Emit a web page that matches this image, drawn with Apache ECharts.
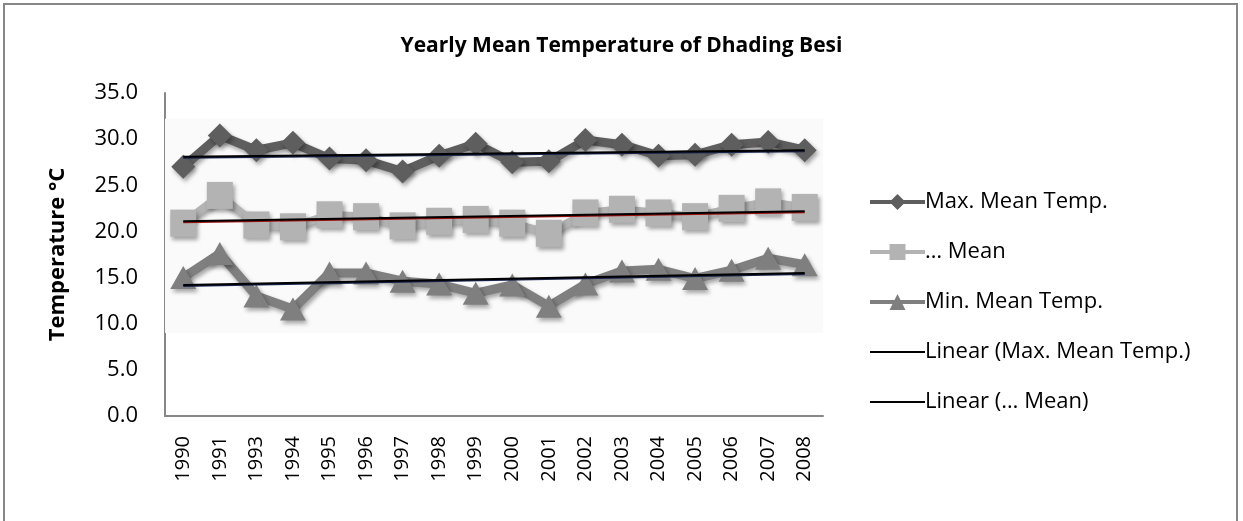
<!DOCTYPE html>
<html>
<head>
<meta charset="utf-8">
<title>Yearly Mean Temperature of Dhading Besi</title>
<script src="https://cdn.jsdelivr.net/npm/echarts@6.0.0/dist/echarts.min.js"></script>
<style>
  html, body { margin: 0; padding: 0; background: #fff; }
  #chart { width: 1243px; height: 521px; }
</style>
</head>
<body>
<div id="chart"></div>
<script>
// data
const years = ['1990', '1991', '1993', '1994', '1995', '1996', '1997', '1998', '1999',
  '2000', '2001', '2002', '2003', '2004', '2005', '2006', '2007', '2008']
const maxMean = [27.0, 30.4, 28.8, 29.6, 27.9, 27.7, 26.5, 28.2, 29.5,
  27.5, 27.6, 29.9, 29.4, 28.2, 28.3, 29.4, 29.7, 28.8]
const meanTemp = [20.9, 23.9, 20.7, 20.5, 21.8, 21.6, 20.6, 21.1, 21.3,
  20.9, 19.8, 22.0, 22.4, 22.0, 21.6, 22.5, 23.2, 22.6]
const minMean = [15.0, 17.6, 13.0, 11.6, 15.5, 15.5, 14.6, 14.3, 13.3,
  14.2, 11.9, 14.3, 15.7, 15.9, 14.9, 15.8, 17.1, 16.4]
// trend line end points (first year, last year)
const trendMax = [28.1, 28.8]
const trendMean = [21.1, 22.2]
const trendMin = [14.2, 15.5]
const yTicks = [0, 5, 10, 15, 20, 25, 30, 35]

const font = 'Open Sans'
const shadow = {
  shadowColor: 'rgba(0,0,0,0.35)',
  shadowBlur: 4,
  shadowOffsetX: 2,
  shadowOffsetY: 3,
}
// plain line icon for the trend entries in the legend
const lineIcon = 'path://M0,0 L55,0 L55,2 L0,2 Z'

function trend(ends) {
  return [[0, ends[0]], [years.length - 1, ends[1]]]
}

const chart = echarts.init(document.getElementById('chart'))

const option = {
  animation: false,
  textStyle: { fontFamily: font },
  graphic: [
    {
      type: 'rect',
      shape: { x: 4, y: 4, width: 1233, height: 530 },
      style: { fill: 'none', stroke: '#878787', lineWidth: 2 },
      silent: true,
      z: -10,
    },
  ],
  title: {
    text: 'Yearly Mean Temperature of Dhading Besi',
    left: 'center',
    top: 31,
    textStyle: {
      fontFamily: font,
      fontWeight: 'bold',
      fontSize: 21,
      color: '#000',
    },
  },
  grid: {
    left: 165,
    top: 93,
    right: 420,
    bottom: 105,
  },
  legend: {
    orient: 'vertical',
    left: 863,
    top: 186,
    itemWidth: 55,
    itemHeight: 20,
    itemGap: 28,
    textStyle: { fontFamily: font, fontSize: 22, color: '#000', padding: [0, 0, 0, -5] },
    data: [
      { name: 'Max. Mean Temp.', lineStyle: { width: 4 } },
      { name: '… Mean', lineStyle: { width: 4 } },
      { name: 'Min. Mean Temp.', lineStyle: { width: 4 } },
      { name: 'Linear (Max. Mean Temp.)', icon: lineIcon, itemStyle: { color: '#000' } },
      { name: 'Linear (… Mean)', icon: lineIcon, itemStyle: { color: '#000' } },
    ],
  },
  xAxis: {
    type: 'category',
    data: years,
    axisLine: { lineStyle: { color: '#878787', width: 2 } },
    axisTick: { show: false },
    axisLabel: {
      rotate: 90,
      margin: 20,
      interval: 0,
      fontFamily: font,
      fontSize: 20,
      color: '#000',
    },
  },
  yAxis: {
    type: 'value',
    min: yTicks[0],
    max: yTicks[yTicks.length - 1],
    interval: 5,
    name: 'Temperature °C',
    nameLocation: 'middle',
    nameGap: 96,
    nameTextStyle: {
      fontFamily: font,
      fontWeight: 'bold',
      fontSize: 22,
      color: '#000',
    },
    axisLine: { show: true, lineStyle: { color: '#878787', width: 2 } },
    axisTick: { show: false },
    splitLine: { show: false },
    axisLabel: {
      margin: 27,
      fontFamily: font,
      fontSize: 22,
      color: '#000',
      formatter: (v) => v.toFixed(1),
    },
  },
  series: [
    {
      name: 'Max. Mean Temp.',
      type: 'line',
      data: maxMean,
      symbol: 'diamond',
      symbolSize: 24,
      lineStyle: Object.assign({ color: '#5e5e5e', width: 9 }, shadow),
      itemStyle: Object.assign({ color: '#5e5e5e' }, shadow),
      z: 3,
      markArea: {
        silent: true,
        itemStyle: { color: '#fafafa' },
        data: [[{ yAxis: 9.0 }, { yAxis: 32.2 }]],
      },
    },
    {
      name: '… Mean',
      type: 'line',
      data: meanTemp,
      symbol: 'rect',
      symbolSize: [26, 27],
      lineStyle: Object.assign({ color: '#b3b3b3', width: 8 }, shadow),
      itemStyle: Object.assign({ color: '#b3b3b3' }, shadow),
      z: 3,
    },
    {
      name: 'Min. Mean Temp.',
      type: 'line',
      data: minMean,
      symbol: 'triangle',
      symbolSize: [26, 23],
      lineStyle: Object.assign({ color: '#7f7f7f', width: 9 }, shadow),
      itemStyle: Object.assign({ color: '#7f7f7f' }, shadow),
      z: 3,
    },
    {
      name: 'Linear (Max. Mean Temp.)',
      type: 'line',
      data: trend(trendMax),
      symbol: 'none',
      lineStyle: { color: '#000', width: 2, shadowColor: '#1a2550', shadowOffsetY: 1 },
      itemStyle: { color: '#000' },
      z: 5,
    },
    {
      name: 'Linear (… Mean)',
      type: 'line',
      data: trend(trendMean),
      symbol: 'none',
      lineStyle: { color: '#000', width: 2, shadowColor: '#a01010', shadowOffsetY: 1 },
      itemStyle: { color: '#000' },
      z: 5,
    },
    {
      name: 'Linear (Min. Mean Temp.)',
      type: 'line',
      data: trend(trendMin),
      symbol: 'none',
      lineStyle: { color: '#000', width: 2, shadowColor: '#1a2550', shadowOffsetY: 1 },
      itemStyle: { color: '#000' },
      z: 5,
    },
  ],
}

chart.setOption(option)
</script>
</body>
</html>
